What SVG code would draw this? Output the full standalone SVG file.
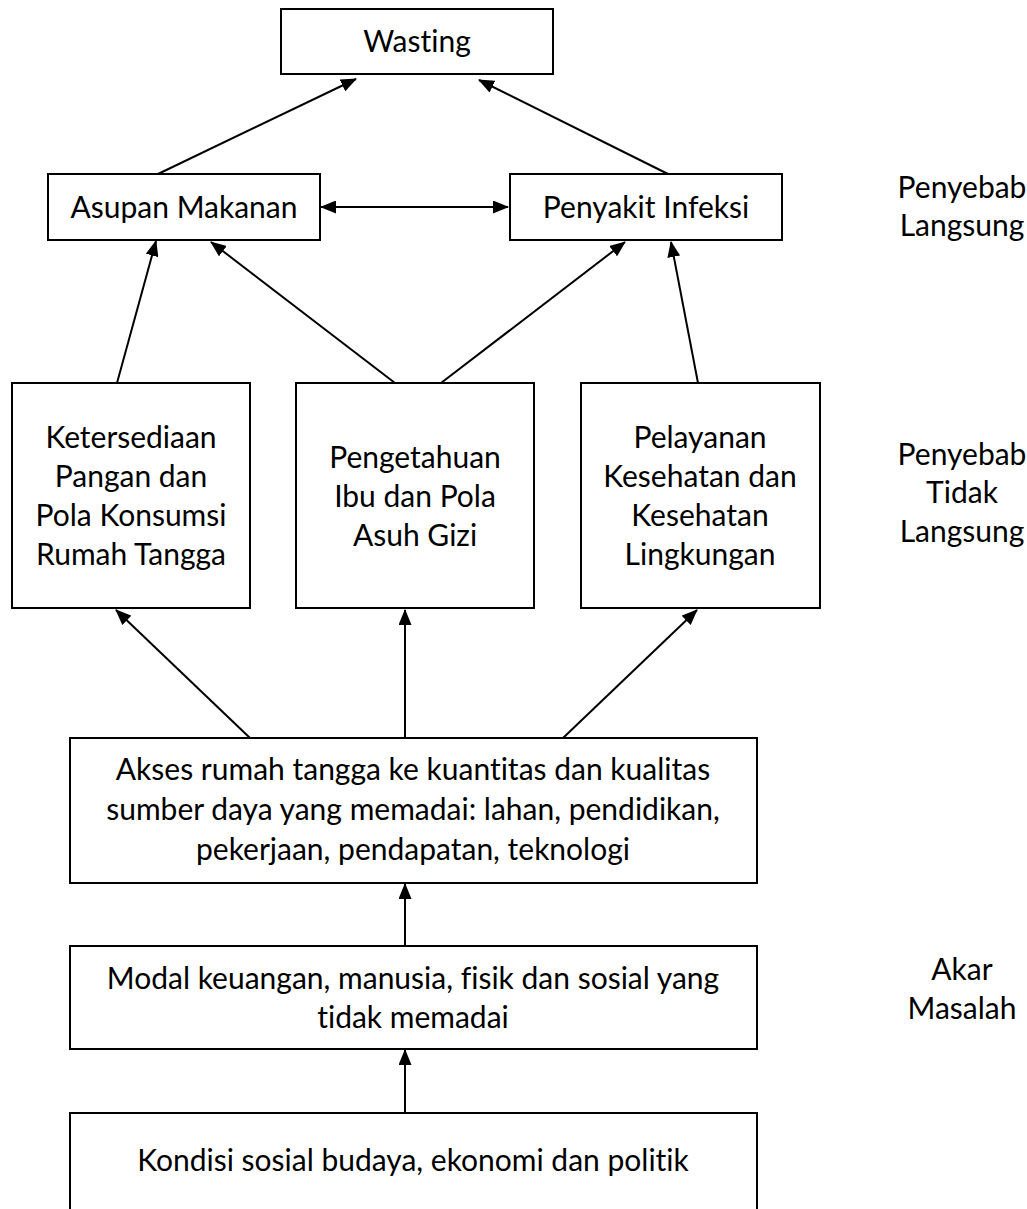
<svg xmlns="http://www.w3.org/2000/svg" width="1027" height="1209" viewBox="0 0 1027 1209">
<style>
.box{fill:#fff;stroke:#000;stroke-width:2}
.t{font-family:Lato,"Liberation Sans",sans-serif;font-size:30px;fill:#000;text-anchor:middle;font-variant-ligatures:none}
.c{stroke:#000;stroke-width:2;fill:none}
</style>
<defs>
<marker id="ah" markerUnits="userSpaceOnUse" markerWidth="16" markerHeight="13" refX="15" refY="6.5" orient="auto-start-reverse">
<path d="M0,0 L16,6.5 L0,13 Z" fill="#000"/>
</marker>
</defs>
<rect width="1027" height="1209" fill="#fff"/>
<g id="connectors">
<line class="c" x1="158" y1="174" x2="356" y2="79" marker-end="url(#ah)"/>
<line class="c" x1="668" y1="174" x2="479" y2="80" marker-end="url(#ah)"/>
<line class="c" x1="321" y1="207" x2="508" y2="207" marker-start="url(#ah)" marker-end="url(#ah)"/>
<line class="c" x1="117" y1="383" x2="156" y2="241" marker-end="url(#ah)"/>
<line class="c" x1="395" y1="383" x2="211" y2="242" marker-end="url(#ah)"/>
<line class="c" x1="441" y1="383" x2="625" y2="242" marker-end="url(#ah)"/>
<line class="c" x1="698" y1="383" x2="671" y2="242" marker-end="url(#ah)"/>
<line class="c" x1="250" y1="738" x2="116" y2="610" marker-end="url(#ah)"/>
<line class="c" x1="405" y1="738" x2="405" y2="610" marker-end="url(#ah)"/>
<line class="c" x1="563" y1="738" x2="697" y2="610" marker-end="url(#ah)"/>
<line class="c" x1="405" y1="946" x2="405" y2="884" marker-end="url(#ah)"/>
<line class="c" x1="405" y1="1113" x2="405" y2="1050" marker-end="url(#ah)"/>
</g>
<g id="wasting">
<rect class="box" x="281" y="9" width="272" height="65"/>
<text class="t" x="417" y="52">Wasting</text>
</g>
<g id="asupan">
<rect class="box" x="48" y="174" width="272" height="66"/>
<text class="t" x="184" y="218">Asupan Makanan</text>
</g>
<g id="penyakit">
<rect class="box" x="510" y="174" width="272" height="66"/>
<text class="t" x="646" y="218">Penyakit Infeksi</text>
</g>
<g id="label-langsung">
<text class="t" x="962" y="198">Penyebab</text>
<text class="t" x="962" y="236">Langsung</text>
</g>
<g id="ketersediaan">
<rect class="box" x="12" y="383" width="238" height="225"/>
<text class="t" x="131" y="448">Ketersediaan</text>
<text class="t" x="131" y="487">Pangan dan</text>
<text class="t" x="131" y="526">Pola Konsumsi</text>
<text class="t" x="131" y="565">Rumah Tangga</text>
</g>
<g id="pengetahuan">
<rect class="box" x="296" y="383" width="238" height="225"/>
<text class="t" x="415" y="468">Pengetahuan</text>
<text class="t" x="415" y="507">Ibu dan Pola</text>
<text class="t" x="415" y="546">Asuh Gizi</text>
</g>
<g id="pelayanan">
<rect class="box" x="581" y="383" width="239" height="225"/>
<text class="t" x="700" y="448">Pelayanan</text>
<text class="t" x="700" y="487">Kesehatan dan</text>
<text class="t" x="700" y="526">Kesehatan</text>
<text class="t" x="700" y="565">Lingkungan</text>
</g>
<g id="label-tidak-langsung">
<text class="t" x="962" y="465">Penyebab</text>
<text class="t" x="962" y="503">Tidak</text>
<text class="t" x="962" y="542">Langsung</text>
</g>
<g id="akses">
<rect class="box" x="70" y="738" width="687" height="145"/>
<text class="t" x="413" y="780">Akses rumah tangga ke kuantitas dan kualitas</text>
<text class="t" x="413" y="820">sumber daya yang memadai: lahan, pendidikan,</text>
<text class="t" x="413" y="860">pekerjaan, pendapatan, teknologi</text>
</g>
<g id="modal">
<rect class="box" x="70" y="946" width="687" height="103"/>
<text class="t" x="413" y="989">Modal keuangan, manusia, fisik dan sosial yang</text>
<text class="t" x="413" y="1028">tidak memadai</text>
</g>
<g id="kondisi">
<rect class="box" x="70" y="1113" width="687" height="120"/>
<text class="t" x="413" y="1171">Kondisi sosial budaya, ekonomi dan politik</text>
</g>
<g id="label-akar">
<text class="t" x="962" y="980">Akar</text>
<text class="t" x="962" y="1019">Masalah</text>
</g>
</svg>
